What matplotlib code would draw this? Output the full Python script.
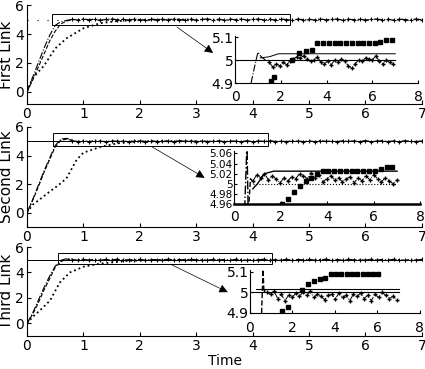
import numpy as np
import matplotlib.pyplot as plt
from matplotlib.patches import Rectangle

plt.rcParams['font.family'] = ['Liberation Sans Narrow', 'DejaVu Sans']

# ---- main plots: rise part of each response ----
t_fast = [0, 0.1, 0.2, 0.3, 0.4, 0.5, 0.6, 0.7, 0.8]
fast1 = [0, 1.0, 2.0, 3.0, 3.9, 4.6, 4.85, 4.95, 5.0]
mid1 = [0, 0.8, 1.7, 2.6, 3.5, 4.2, 4.7, 4.9, 5.0]
fast2 = [0, 0.9, 1.9, 2.9, 3.8, 4.7, 5.15, 5.2, 5.1]
mid2 = [0, 0.85, 1.8, 2.8, 3.7, 4.6, 5.05, 5.15, 5.05]
fast3 = [0, 0.8, 1.8, 2.8, 3.7, 4.5, 4.95, 5.1, 5.05]
mid3 = [0, 0.7, 1.6, 2.6, 3.5, 4.4, 4.85, 5.05, 5.0]

t_slow1 = [0, 0.1, 0.3, 0.5, 0.7, 1.0, 1.3, 1.6, 2.0, 2.5, 3.0]
slow1 = [0, 0.95, 1.8, 3.0, 3.7, 4.4, 4.75, 4.9, 4.97, 5.0, 5.0]
t_slow2 = [0, 0.1, 0.25, 0.41, 0.55, 0.7, 0.88, 1.0, 1.3, 1.6, 1.9, 2.5, 3.0]
slow2 = [0, 0.55, 1.0, 1.5, 1.9, 2.4, 3.7, 4.2, 4.6, 4.85, 4.97, 5.0, 5.0]
t_slow3 = [0, 0.1, 0.25, 0.41, 0.58, 0.76, 1.0, 1.3, 1.8, 2.5, 3.0]
slow3 = [0, 0.5, 1.1, 1.8, 3.2, 4.0, 4.45, 4.7, 4.92, 5.0, 5.0]

# steady-state part (t = 0.8 ... 7)
tail1 = [5.02, 4.97, 5.04, 4.99, 5.03, 4.96, 5.01, 5.05, 4.98, 5.02,
         4.97, 5.03, 5.00, 4.96, 5.04, 4.99, 5.02, 4.97, 5.05, 5.00,
         4.98, 5.03, 4.96, 5.01, 5.04, 4.98, 5.02, 4.97, 5.03, 4.99,
         5.05, 4.96, 5.01, 5.03, 4.98, 5.02, 4.97, 5.04, 5.00, 4.96,
         5.03, 4.99, 5.02, 4.97, 5.05, 4.98, 5.01, 5.04, 4.96, 5.02,
         4.99, 5.03, 4.97, 5.01, 5.04, 4.98, 5.02, 4.96, 5.03, 5.00,
         4.97, 5.04, 4.99]
tail2 = [5.03, 4.98, 5.02, 4.97, 5.04, 5.00, 4.97, 5.03, 4.99, 5.02,
         4.96, 5.03, 5.01, 4.98, 5.04, 4.97, 5.02, 5.00, 4.97, 5.03,
         4.99, 5.02, 4.97, 5.04, 4.98, 5.01, 5.03, 4.97, 5.02, 5.00,
         4.98, 5.03, 4.97, 5.02, 4.99, 5.04, 4.98, 5.01, 4.97, 5.03,
         5.00, 4.98, 5.02, 4.97, 5.04, 4.99, 5.01, 4.97, 5.03, 4.99,
         5.02, 4.98, 5.04, 4.97, 5.01, 5.03, 4.98, 5.02, 4.97, 5.03,
         5.00, 4.98, 5.02]
tail3 = [5.01, 4.97, 5.03, 4.98, 5.02, 4.96, 5.03, 4.99, 5.04, 4.97,
         5.01, 4.98, 5.03, 4.96, 5.02, 5.00, 4.97, 5.04, 4.98, 5.02,
         4.97, 5.03, 4.99, 5.01, 4.96, 5.04, 4.98, 5.02, 4.97, 5.03,
         5.00, 4.96, 5.02, 4.99, 5.04, 4.97, 5.01, 4.98, 5.03, 4.96,
         5.02, 4.99, 5.03, 4.97, 5.01, 5.04, 4.98, 5.02, 4.96, 5.03,
         4.99, 5.01, 4.97, 5.04, 4.98, 5.02, 4.97, 5.03, 5.00, 4.96,
         5.02, 4.98, 5.03]

# ---- inset 1 ----
in1_fast_t = [0.7, 0.85, 1.0, 1.1, 1.2, 1.35]
in1_fast = [4.90, 4.97, 5.035, 5.02, 5.01, 5.0]
in1_noise = [4.99, 4.97, 4.985, 4.975, 4.99, 4.98, 4.995, 5.005, 5.015, 5.01,
             5.02, 5.005, 4.995, 5.0, 5.015, 4.99, 4.985, 4.995, 4.98, 5.0,
             4.99, 5.005, 4.995, 4.975, 4.965, 4.985, 5.0, 4.995, 5.01, 5.005,
             5.0, 5.02, 4.995, 4.985, 5.0, 4.99, 4.985]
in1_sq_t = [1.55, 1.7, 2.5, 2.8, 3.1, 3.35, 3.6, 3.85, 4.1, 4.35, 4.6, 4.85,
            5.1, 5.35, 5.6, 5.85, 6.1, 6.35, 6.6, 6.85]
in1_sq = [4.91, 4.925, 5.0, 5.03, 5.04, 5.045, 5.075, 5.075, 5.075, 5.075,
          5.075, 5.075, 5.075, 5.075, 5.075, 5.075, 5.075, 5.08, 5.09, 5.09]
in1_step_t = [1.1, 1.5, 1.9, 7.0]
in1_step = [5.01, 5.015, 5.028, 5.028]

# ---- inset 2 ----
in2_fast_t = [0.45, 0.55, 0.6]
in2_fast = [4.95, 5.08, 4.95]
in2_mid_t = [0.62, 0.7, 0.8]
in2_mid = [4.95, 5.01, 5.005]
in2_noise = [5.005, 5.018, 5.012, 5.02, 5.008, 5.015, 5.01, 5.002, 5.012, 5.006,
             5.014, 5.01, 5.02, 5.016, 5.01, 5.022, 5.012, 5.018, 5.004, 5.01,
             5.016, 5.008, 5.012, 5.004, 5.01, 5.014, 5.002, 5.012, 5.006, 5.016,
             5.008, 5.018, 5.01, 5.004, 5.012, 5.006, 5.0, 5.008]
in2_sq_t = [2.05, 2.3, 2.55, 2.85, 3.1, 3.3, 3.55, 3.8, 4.05, 4.3, 4.55, 4.8,
            5.05, 5.3, 5.55, 5.8, 6.05, 6.3, 6.55, 6.8]
in2_sq = [4.96, 4.97, 4.983, 4.996, 5.005, 5.012, 5.02, 5.026, 5.026, 5.026,
          5.026, 5.026, 5.026, 5.026, 5.026, 5.026, 5.026, 5.03, 5.034, 5.034]
in2_step_t = [0.8, 1.0, 1.3, 1.7, 7.0]
in2_step = [4.99, 5.0, 5.02, 5.025, 5.025]

# ---- inset 3 ----
in3_fast_t = [0.55, 0.62, 0.66, 0.72]
in3_fast = [4.9, 5.11, 5.0, 5.01]
in3_noise = [5.0, 4.99, 5.005, 4.97, 4.99, 4.96, 4.985, 4.975, 4.995, 4.98,
             5.0, 4.985, 5.005, 4.975, 4.99, 4.98, 4.965, 4.985, 4.99, 4.97,
             4.995, 4.975, 4.985, 4.96, 4.99, 4.98, 4.995, 4.97, 4.985, 4.96,
             4.99, 4.975, 5.0, 4.985, 4.97, 4.98, 4.965]
in3_sq_t = [1.5, 1.8, 2.45, 2.75, 3.0, 3.3, 3.55, 3.8, 4.05, 4.3, 4.55, 4.8,
            5.05, 5.3, 5.55, 5.8, 6.05]
in3_sq = [4.91, 4.93, 5.01, 5.04, 5.055, 5.065, 5.07, 5.09, 5.09, 5.09,
          5.09, 5.09, 5.09, 5.09, 5.09, 5.09, 5.09]

labels = ['First Link', 'Second Link', 'Third Link']

fig = plt.figure(figsize=(4.25, 3.69), dpi=100)

main_pos = [[0.0635, 0.718, 0.929, 0.268],
            [0.0635, 0.385, 0.929, 0.271],
            [0.0635, 0.0894, 0.929, 0.241]]
main_ylim = [(-0.85, 6), (-1, 6), (-1, 6)]
rects = [(0.44, 4.62, 4.22, 0.76), (0.46, 4.67, 3.81, 0.91), (0.55, 4.66, 3.79, 0.84)]
arrows = [((2.66, 4.48), (3.30, 2.69)), ((2.22, 4.6), (3.15, 2.44)),
          ((2.54, 4.66), (3.56, 2.45))]
fasts = [fast1, fast2, fast3]
mids = [mid1, mid2, mid3]
slows = [(t_slow1, slow1), (t_slow2, slow2), (t_slow3, slow3)]
tails = [tail1, tail2, tail3]

for i in range(3):
    ax = fig.add_axes(main_pos[i])
    tail = tails[i]
    t_tail = np.linspace(0.8, 7.0, len(tail))
    ax.plot(t_fast, fasts[i], 'k-.', lw=0.8)
    ax.plot(t_fast, mids[i], 'k--', lw=0.8)
    ax.plot(slows[i][0], slows[i][1], 'k:', lw=1.3)
    ax.plot(t_tail, tail, 'k-.', lw=0.9, marker='+', ms=3.5, mew=0.8)
    if i == 0:
        ax.plot([0, 7], [5, 5], 'k', lw=0.8, ls=(0, (1, 8)))
    else:
        ax.plot([0, 7], [5, 5], 'k-', lw=0.7)
    x0, y0, w, h = rects[i]
    ax.add_patch(Rectangle((x0, y0), w, h, fill=False, ec='k', lw=0.7))
    ax.annotate('', xy=arrows[i][1], xytext=arrows[i][0],
                arrowprops=dict(arrowstyle='-|>', color='k', lw=0.5,
                                mutation_scale=13, shrinkA=0, shrinkB=0))
    ax.set_xlim(0, 7)
    ax.set_ylim(*main_ylim[i])
    ax.set_xticks(range(8))
    ax.set_yticks([0, 2, 4, 6])
    ax.tick_params(direction='in', length=3, labelsize=10, pad=2)
    for s in ['top', 'right']:
        ax.spines[s].set_visible(False)
    ax.set_ylabel(labels[i], fontsize=11, labelpad=1)

# insets
def inset(pos, ylim, yticks, yticklabels, ysize=10, xpad=5):
    a = fig.add_axes(pos)
    a.set_facecolor('white')
    a.set_xlim(0, 8)
    a.set_ylim(*ylim)
    a.set_xticks([0, 2, 4, 6, 8])
    a.set_yticks(yticks)
    a.set_yticklabels(yticklabels)
    a.tick_params(direction='in', length=2, labelsize=10)
    a.tick_params(axis='x', pad=xpad)
    a.tick_params(axis='y', labelsize=ysize, pad=1)
    for s in ['top', 'right']:
        a.spines[s].set_visible(False)
    return a

a1 = inset([0.553, 0.775, 0.431, 0.127], (4.9, 5.105), [4.9, 5, 5.1], ['4.9', '5', '5.1'])
a1.plot([0, 7], [5, 5], 'k-', lw=0.8)
a1.plot(in1_step_t, in1_step, 'k-', lw=0.7)
a1.plot(in1_fast_t, in1_fast, 'k-.', lw=0.8)
a1.plot(np.linspace(1.5, 6.9, len(in1_noise)), in1_noise, 'k-.', lw=0.7, marker='+', ms=2.5)
a1.plot(in1_sq_t, in1_sq, 'ks', ms=2.5, ls='none')

a2 = inset([0.551, 0.447, 0.438, 0.144], (4.96, 5.065),
           [4.96, 4.98, 5, 5.02, 5.04, 5.06], ['4.96', '4.98', '5', '5.02', '5.04', '5.06'],
           ysize=7.5, xpad=4)
a2.spines['bottom'].set_linewidth(1.8)
a2.plot([0.8, 7], [5, 5], 'k:', lw=0.8)
a2.plot(in2_step_t, in2_step, 'k-', lw=1.0)
a2.plot(in2_fast_t, in2_fast, 'k-.', lw=1.0)
a2.plot(in2_mid_t, in2_mid, 'k--', lw=1.0)
a2.plot(np.linspace(0.8, 7.0, len(in2_noise)), in2_noise, 'k-.', lw=0.7, marker='+', ms=2.5)
a2.plot(in2_sq_t, in2_sq, 'ks', ms=2.5, ls='none')

a3 = inset([0.588, 0.152, 0.4, 0.117], (4.9, 5.11), [4.9, 5, 5.1], ['4.9', '5', '5.1'], xpad=6)
a3.plot([0, 7], [5, 5], 'k-', lw=0.8)
a3.plot([0.3, 7], [5.018, 5.018], 'k-', lw=0.8)
a3.plot(in3_fast_t, in3_fast, 'k--', lw=1.0)
a3.plot(np.linspace(0.8, 6.9, len(in3_noise)), in3_noise, 'k-.', lw=0.7, marker='+', ms=2.5)
a3.plot(in3_sq_t, in3_sq, 'ks', ms=2.5, ls='none')

fig.text(0.53, 0.003, 'Time', fontsize=10, ha='center', va='bottom')

fig.savefig('out.png', dpi=100)
